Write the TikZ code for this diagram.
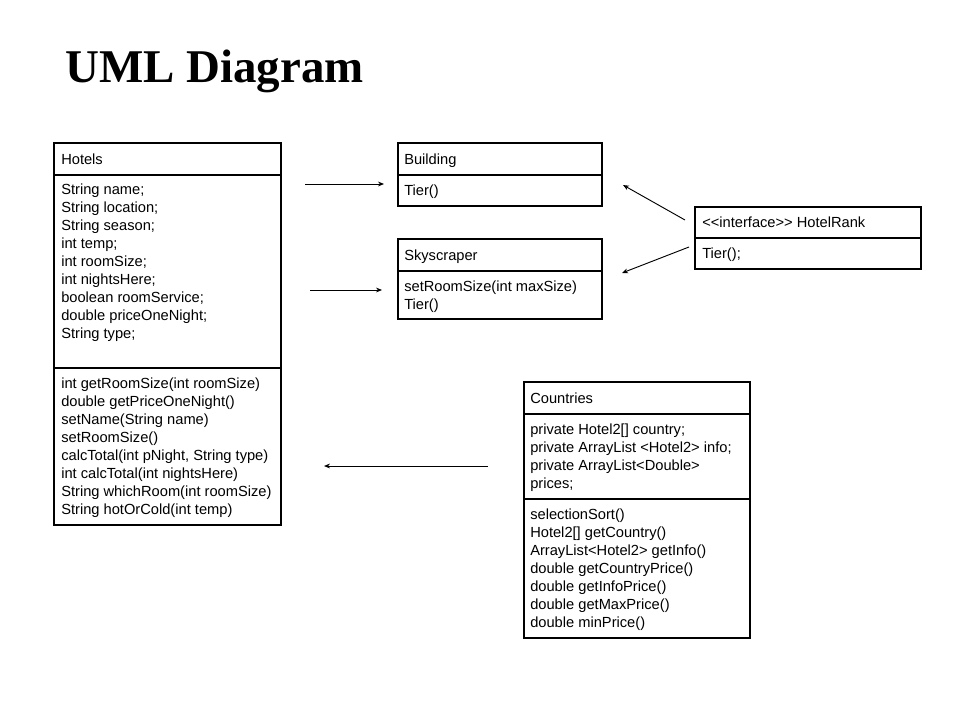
\documentclass[tikz,border=0pt]{standalone}
\usepackage{fontspec}
\setmainfont{Liberation Sans}
\newfontfamily\titlefont{Liberation Serif}
\usetikzlibrary{fit,arrows.meta}
\tikzset{
  box/.style={draw=black, line width=0.9pt, inner sep=0pt, fill=none},
  txt/.style={anchor=north west, inner sep=0pt, align=left,
    font=\fontsize{11}{13.5}\selectfont, text=black},
  arr/.style={line width=0.7pt, -{Stealth[length=4.5pt,width=3.6pt]}},
}
\newcommand{\fl}{\strut}
\begin{document}
\begin{tikzpicture}[x=0.75pt,y=-0.75pt]
\useasboundingbox (0,0) rectangle (960,720);
\fill[white] (0,0) rectangle (960,720);

% title
\node[anchor=base west, inner sep=0pt, font=\titlefont\bfseries\fontsize{35.2}{40}\selectfont] (title) at (65,83) {UML Diagram};

% Hotels
\node[box, fit={(54,143)(281,175)}] (hotT) {};
\node[box, fit={(54,175)(281,368)}] (hotA) {};
\node[box, fit={(54,368)(281,525)}] (hotM) {};
\node[txt] (hotTt) at (61,151.9) {\fl Hotels};
\node[txt] (hotAt) at (61,181.9) {\fl String name;\\String location;\\String season;\\int temp;\\int roomSize;\\int nightsHere;\\boolean roomService;\\double priceOneNight;\\String type;};
\node[txt] (hotMt) at (61,375.9) {\fl int getRoomSize(int roomSize)\\double getPriceOneNight()\\setName(String name)\\setRoomSize()\\calcTotal(int pNight, String type)\\int calcTotal(int nightsHere)\\String whichRoom(int roomSize)\\String hotOrCold(int temp)};

% Building
\node[box, fit={(398,143)(602,175)}] (bldT) {};
\node[box, fit={(398,175)(602,206)}] (bldM) {};
\node[txt] (bldTt) at (404,151.9) {\fl Building};
\node[txt] (bldMt) at (404,182.9) {\fl Tier()};

% Skyscraper
\node[box, fit={(398,239)(602,271)}] (skyT) {};
\node[box, fit={(398,271)(602,319)}] (skyM) {};
\node[txt] (skyTt) at (404,247.9) {\fl Skyscraper};
\node[txt] (skyMt) at (404,278.9) {\fl setRoomSize(int maxSize)\\Tier()};

% HotelRank
\node[box, fit={(695,207)(921,238)}] (rankT) {};
\node[box, fit={(695,238)(921,269)}] (rankM) {};
\node[txt] (rankTt) at (702,214.9) {\fl <{}<interface>{}> HotelRank};
\node[txt] (rankMt) at (702,245.9) {\fl Tier();};

% Countries
\node[box, fit={(524,382)(750,414)}] (ctyT) {};
\node[box, fit={(524,414)(750,499)}] (ctyA) {};
\node[box, fit={(524,499)(750,638)}] (ctyM) {};
\node[txt] (ctyTt) at (530,390.9) {\fl Countries};
\node[txt] (ctyAt) at (530,421.9) {\fl private Hotel2[] country;\\private ArrayList <Hotel2> info;\\private ArrayList<Double>\\prices;};
\node[txt] (ctyMt) at (530,506.9) {\fl selectionSort()\\Hotel2[] getCountry()\\ArrayList<Hotel2> getInfo()\\double getCountryPrice()\\double getInfoPrice()\\double getMaxPrice()\\double minPrice()};

% arrows
\coordinate (a1s) at (305,184); \coordinate (a1e) at (384,184);
\coordinate (a2s) at (310,290); \coordinate (a2e) at (382,290);
\coordinate (a3s) at (685,220); \coordinate (a3e) at (623,185);
\coordinate (a4s) at (689,247); \coordinate (a4e) at (622,273);
\coordinate (a5s) at (488,466); \coordinate (a5e) at (324,466);
\draw[arr] (a1s) -- (a1e);
\draw[arr] (a2s) -- (a2e);
\draw[arr] (a3s) -- (a3e);
\draw[arr] (a4s) -- (a4e);
\draw[arr] (a5s) -- (a5e);
\end{tikzpicture}
\end{document}
